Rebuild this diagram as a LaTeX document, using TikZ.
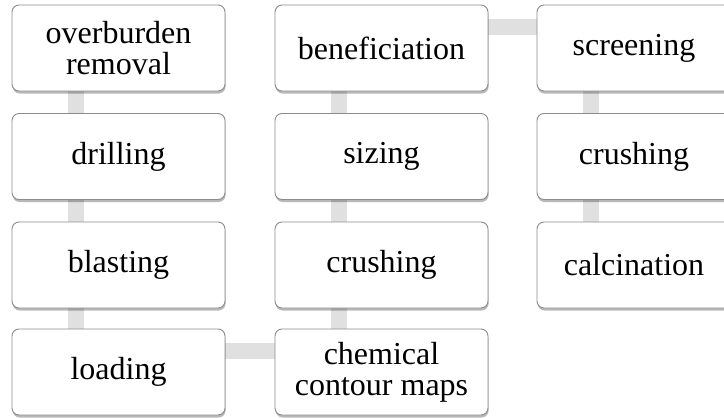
\documentclass[tikz,border=0pt]{standalone}
\usepackage{fontspec}
\setmainfont{Liberation Serif}
\usetikzlibrary{shadows, backgrounds}
\tikzset{
    mineStep/.style={
        draw=black!45, fill=white, line width=0.9pt, rounded corners=7pt, minimum width=213pt, minimum height=86pt, align=center, inner sep=2pt, font=\fontsize{32}{31}\selectfont,
        drop shadow={shadow xshift=0.6pt, shadow yshift=-2.5pt, opacity=0.28, fill=black}
    },
    mineStepNarrow/.style={
        mineStep, minimum width=194pt
    },
    mineLink/.style={
        line width=16pt, draw=black!12
    }
}
\begin{document}
\begin{tikzpicture}[x=1pt, y=-1pt]
    \useasboundingbox (0,0) rectangle (724,418);

    % ── COLUMN 1: MINING
    \node[mineStep] (overburden) at (118.5, 48) {overburden\\removal};
    \node[mineStep] (drilling) at (118.5, 156.5) {drilling};
    \node[mineStep] (blasting) at (118.5, 265) {blasting};
    \node[mineStep] (loading) at (118.5, 372) {loading};

    % ── COLUMN 2: PREPARATION
    \node[mineStep] (beneficiation) at (381.5, 48) {beneficiation};
    \node[mineStep] (sizing) at (381.5, 156.5) {sizing};
    \node[mineStep] (crushingA) at (381.5, 265) {crushing};
    \node[mineStep] (chemMaps) at (381.5, 372) {chemical\\contour maps};

    % ── COLUMN 3: PROCESSING
    \node[mineStepNarrow] (screening) at (634, 48) {screening};
    \node[mineStepNarrow] (crushingB) at (634, 156.5) {crushing};
    \node[mineStepNarrow] (calcination) at (634, 265) {calcination};

    % Links behind the boxes
    \begin{scope}[on background layer]
        \draw[mineLink] ([xshift=-42.5pt]overburden.south) -- ([xshift=-42.5pt]drilling.north);
        \draw[mineLink] ([xshift=-42.5pt]drilling.south) -- ([xshift=-42.5pt]blasting.north);
        \draw[mineLink] ([xshift=-42.5pt]blasting.south) -- ([xshift=-42.5pt]loading.north);
        \draw[mineLink] ([yshift=21pt]loading.east) -- ([yshift=21pt]chemMaps.west);
        \draw[mineLink] ([xshift=-42.5pt]chemMaps.north) -- ([xshift=-42.5pt]crushingA.south);
        \draw[mineLink] ([xshift=-42.5pt]crushingA.north) -- ([xshift=-42.5pt]sizing.south);
        \draw[mineLink] ([xshift=-42.5pt]sizing.north) -- ([xshift=-42.5pt]beneficiation.south);
        \draw[mineLink] ([yshift=21pt]beneficiation.east) -- ([yshift=21pt]screening.west);
        \draw[mineLink] ([xshift=-43pt]screening.south) -- ([xshift=-43pt]crushingB.north);
        \draw[mineLink] ([xshift=-43pt]crushingB.south) -- ([xshift=-43pt]calcination.north);
    \end{scope}
\end{tikzpicture}
\end{document}
